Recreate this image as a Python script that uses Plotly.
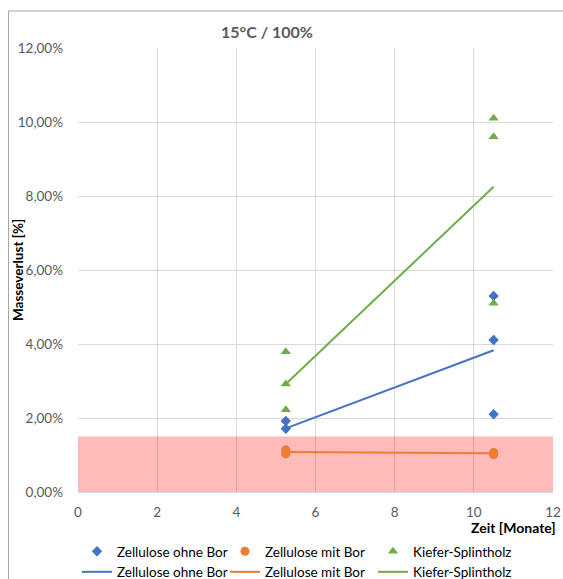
import plotly.graph_objects as go

# Measurement times (months) and mass loss (fraction) per sample
x_ohne = [5.25, 5.25, 10.5, 10.5, 10.5]
y_ohne = [0.0192, 0.0171, 0.0530, 0.0411, 0.0210]

x_mit = [5.25, 5.25, 5.25, 10.5, 10.5, 10.5]
y_mit = [0.0114, 0.0108, 0.0103, 0.0107, 0.0103, 0.0101]

x_kiefer = [5.25, 5.25, 5.25, 10.5, 10.5, 10.5]
y_kiefer = [0.0379, 0.0292, 0.0222, 0.1010, 0.0960, 0.0510]

# Trend lines
x_trend = [5.25, 10.5]
trend_ohne = [0.0172, 0.0383]
trend_mit = [0.0108, 0.0105]
trend_kiefer = [0.0292, 0.0825]

# Tolerance band
band_x = [0, 12]
band_y = [0, 0.015]

x_ticks = [0, 2, 4, 6, 8, 10, 12]
y_ticks = [0, 0.02, 0.04, 0.06, 0.08, 0.10, 0.12]

BLUE = "#4472C4"
ORANGE = "#ED7D31"
GREEN = "#70AD47"
GRAY_TXT = "#595959"
GRID = "#D9D9D9"
FONT = "Lato, 'Open Sans', sans-serif"

W, H = 563, 579
ML, MR, MT, MB = 78, 10, 48, 87
PW, PH = W - ML - MR, H - MT - MB

fig = go.Figure()

fig.add_trace(go.Scatter(x=x_ohne, y=y_ohne, mode="markers", name="Zellulose ohne Bor",
                         marker=dict(symbol="diamond", size=8, color=BLUE)))
fig.add_trace(go.Scatter(x=x_mit, y=y_mit, mode="markers", name="Zellulose mit Bor",
                         marker=dict(symbol="circle", size=9, color=ORANGE)))
fig.add_trace(go.Scatter(x=x_kiefer, y=y_kiefer, mode="markers", name="Kiefer-Splintholz",
                         marker=dict(symbol="triangle-up", size=9, color=GREEN)))
fig.add_trace(go.Scatter(x=x_trend, y=trend_ohne, mode="lines", name="Zellulose ohne Bor",
                         line=dict(color=BLUE, width=2)))
fig.add_trace(go.Scatter(x=x_trend, y=trend_mit, mode="lines", name="Zellulose mit Bor",
                         line=dict(color=ORANGE, width=2)))
fig.add_trace(go.Scatter(x=x_trend, y=trend_kiefer, mode="lines", name="Kiefer-Splintholz",
                         line=dict(color=GREEN, width=2)))

# Shaded band below the threshold
fig.add_shape(type="rect", xref="x", yref="y", x0=band_x[0], x1=band_x[1],
              y0=band_y[0], y1=band_y[1], fillcolor="rgba(255,0,0,0.27)",
              line=dict(width=0), layer="between")


def px_to_paper_x(px):
    return (px - ML) / PW


def px_to_paper_y(py):
    return (H - MB - py) / PH


# Chart-area frame (top and left edges)
frame = dict(color="#A6A6A6", width=1)
fig.add_shape(type="line", xref="paper", yref="paper",
              x0=px_to_paper_x(8.5), x1=px_to_paper_x(W + 5),
              y0=px_to_paper_y(11), y1=px_to_paper_y(11), line=frame)
fig.add_shape(type="line", xref="paper", yref="paper",
              x0=px_to_paper_x(8.5), x1=px_to_paper_x(8.5),
              y0=px_to_paper_y(11), y1=px_to_paper_y(H + 5), line=frame)

# Axis titles
fig.add_annotation(text="<b>Zeit [Monate]</b>", xref="paper", yref="paper",
                   x=px_to_paper_x(558), y=px_to_paper_y(527), xanchor="right",
                   yanchor="middle", showarrow=False,
                   font=dict(family=FONT, size=14, color="#000000"))
fig.add_annotation(text="<b>Masseverlust [%]</b>", xref="paper", yref="paper",
                   x=px_to_paper_x(18), y=0.5, xanchor="center",
                   yanchor="middle", textangle=-90, showarrow=False,
                   font=dict(family=FONT, size=13.5, color="#000000"))

fig.update_layout(
    width=W, height=H,
    margin=dict(l=ML, r=MR, t=MT, b=MB, autoexpand=False),
    paper_bgcolor="white", plot_bgcolor="white",
    separators=",.",
    font=dict(family=FONT, size=13.5, color=GRAY_TXT),
    title=dict(text="<b>15°C / 100%</b>", xref="container", yref="container",
               x=267 / W, y=1 - 32 / H, xanchor="center", yanchor="middle",
               font=dict(family=FONT, size=16, color=GRAY_TXT)),
    xaxis=dict(range=[0, 12], tickvals=x_ticks, showgrid=True, gridcolor=GRID,
               gridwidth=1, zeroline=False, showline=True, linecolor=GRID,
               mirror=False, ticks="", ticklabelstandoff=8,
               tickfont=dict(family=FONT, size=13.5, color=GRAY_TXT)),
    yaxis=dict(range=[0, 0.12], tickvals=y_ticks, tickformat=".2%",
               showgrid=True, gridcolor=GRID, gridwidth=1, zeroline=False,
               showline=False, ticks="", ticklabelstandoff=14,
               tickfont=dict(family=FONT, size=13.5, color=GRAY_TXT)),
    legend=dict(orientation="h", x=px_to_paper_x(77), y=px_to_paper_y(536),
                xanchor="left", yanchor="top", entrywidth=103,
                traceorder="normal", tracegroupgap=0,
                font=dict(family=FONT, size=13.5, color="#000000"),
                bgcolor="rgba(0,0,0,0)"),
    showlegend=True,
)

fig.write_html("out.html")
